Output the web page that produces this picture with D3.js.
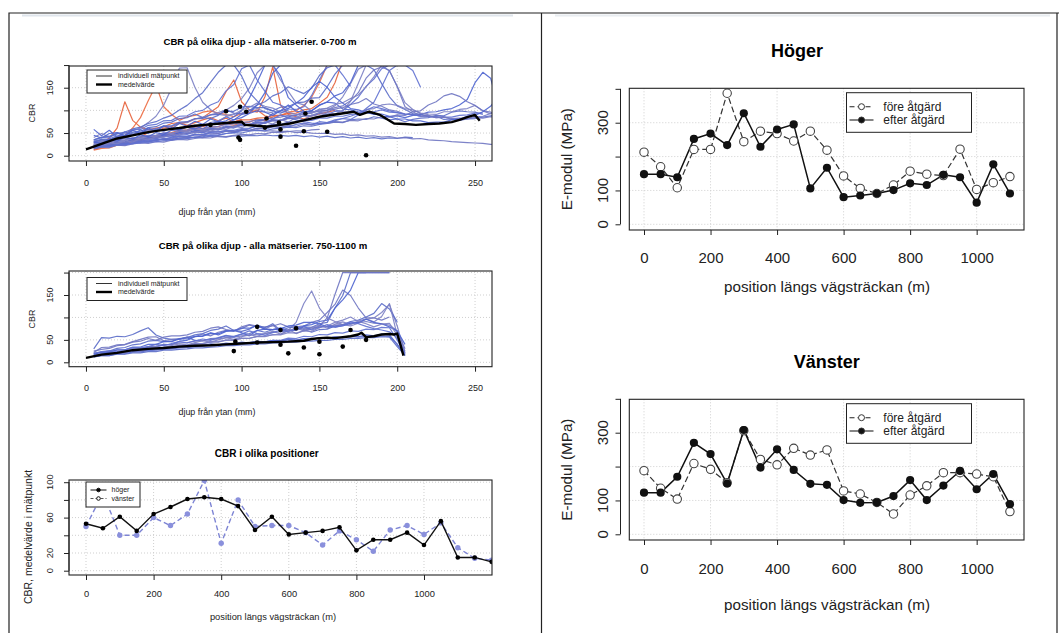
<!DOCTYPE html>
<html>
<head>
<meta charset="utf-8">
<script src="https://cdn.jsdelivr.net/npm/d3@7"></script>
<style>
body { margin: 0; background: #fff; }
svg { display: block; }
</style>
</head>
<body>
<script>
// ---- data: CBR depth profiles (values every 5 mm, starting at 5 mm) ----
var depthStep = 5;

var topBlue = [
  [22,25,26,29,28,32,33,31,35,37,36,39,38,41,40,43,42,41,44,43,45,44,46,44,45,43,45,42,44,41,43,40,42,39,41,38,40,37,39,38,41,40],
  [28,32,31,36,38,37,42,44,43,47,46,50,49,52,51,54,53,55,54,56,55,57,54,55,53,54,51,52,50,49,50,47,48,45,46,43,44,41,42,39,40,37,38,35,34,33,31,30,29,28,27,25,24],
  [58,44,56,41,53,45,57,49,59,54,62,57,64,67,59,70,73,77,86,99,127,162,200,200,176,128,112,98,96],
  [40,49,41,51,45,56,61,73,87,112,149,193,194,151,118,102,91,89,92,94,101,104,97,95],
  [20,24,23,28,29,33,31,36,37,35,41,44,42,47,46,51,49,54,52,58,56,61,59,64,66,63,69,72,68,75,73,79,82,80,90,104,118,152,188,200],
  [18,21,20,25,27,26,31,30,34,36,35,39,41,40,44,46,45,49,51,50,54,56,55,59,61,63,62,66,65,69,71,74,73,79,81,80,86,83,79,81,75,80,83,84,89,88,96,99,97,96,91],
  [16,19,18,23,22,26,28,27,31,30,34,36,35,38,40,39,43,42,45,47,46,49,48,52,51,53,55,54,57,58],
  [22,25,24,30,31,35,34,41,40,46,45,51,50,56,55,61,57,63,64,69,68,74,73,79,78,86,89,97,99,112,118,116,103,101,97,96,91,92,87,88,84,89,91,96,97,101,104,112,124,161,184,171,108,86],
  [30,33,35,39,42,47,50,55,56,64,65,72,73,81,85,90,95,101,111,126,149,183,200,200,167,142,117,112,98,97,100,110,130,159,191,200,200,200,187,153,117,102,93,91],
  [35,40,41,48,49,57,58,67,69,77,78,87,88,97,100,112,119,143,157,192,200,167,142,118,112,103,102,108,133,167,200,200,178,153],
  [30,35,35,42,43,50,51,58,59,66,66,74,75,82,82,90,91,98,98,107,109,106,106,99,107,108,117,118,127,128,152,180,200,200,200,200,190,159,130,110,102,93,92,86,87,80,81,78,81,82,85,88,91,92],
  [25,29,30,33,35,39,40,43,45,49,50,53,55,59,60,63,65,69,70,73,75,79,80,83,85,89,90,93,95,99,100,106,110,121,139,171,189,196,188,152,108,97,88,89,85,86,80,81,82,86,87,93,95,101],
  [20,24,24,30,29,35,35,40,39,45,44,50,49,54,54,60,59,64,64,70,69,77,79,93,99,112,98,96,99,111,119,132,139,161,200],
  [26,30,29,35,34,40,39,45,45,51,49,55,53,58,57,62,61,66,65,71,69,75,73,79,77,83,84,93,94,103,104,101,97,97,94,102,104,112,114,111,104,101,94,92,91,97,97,102,104,111,99,92],
  [18,22,22,27,27,33,31,37,37,43,41,48,47,53,51,58,57,63,61,68,67,73,71,78,77,83,81,88,87,93,91,98,99,113,129,153,169,192,200,200,200,188,151],
  [32,36,37,44,45,52,54,62,64,72,74,82,84,92,84,82,89,102,94,92,99,112,119,132,139,152,144,137,149,177,194,200],
  [15,19,20,23,24,29,29,34,33,38,37,42,41,46,45,50,49,54,53,57,56,60,59,64,62,67,65,70,68,72,71,75,74,78,77,82,81,86,85,90,89,97,99,112,119,132,137,131,119,111,99,96,91,91,87],
  [45,39,49,51,44,56,49,61,54,66,59,71,65,76,69,81,75,86,79,91,94,112,139,182,200],
  [24,28,28,32,33,37,37,42,43,48,49,55,57,63,66,73,77,86,91,101,107,116,109,105,97,96,91,91,94,101,105,113,117,126,134,152,174,200],
  [17,20,20,25,25,29,30,34,34,38,39,43,43,47,47,52,52,56,56,60,61,65,65,69,69,74,74,78,78,83,83,87,87,91,92,96,97,101,96,95,91,91,87,87,84,85,85,89,90,94,94],
  [35,41,43,49,52,59,63,71,75,83,89,101,111,126,139,162,184,200,200,176,139,121,104,99,94,101],
  [21,24,25,29,29,34,34,39,39,43,44,48,49,53,53,58,58,62,63,67,67,72,72,77,77,82,83,88,89,95,97,103,106,113,117,126,114,109,101,98,92,91,87,87,84,85,82,83,81,84,83,86,85],
  [30,27,36,32,41,37,46,42,51,47,56,57,63,59,66,69,76,71,79,84,93,99,96,89,99,104,116,129,151,164,151,129,116,104,101,95,93,87,86,81,81,77,77,73,74,74,79,81,87,89,97,109,131,134,121,99,91],
  [25,22,28,26,33,30,38,35,42,40,47,45,52,50,56,54,60,58,65,62,70,66,75,70,80,74,85,78,90,86,95,92,100,120,160,200],
  [19,22,21,24,24,27,28,30,31,33,35,37,38,41,42,45,46,49,51,55,60,66,73,81,90,84,79,75,72,70,73,77,82,87,93,100,108,104,99,95,92,90,88]
];

var topRed = [
  [22,27,39,61,119,78,63,57,61,64,71,73,67,73,79,84,77,83,74,80],
  [18,23,27,36,44,61,84,121,156,108,91,78,86,89,96,99,94,91,86,93,95,101,88,84],
  [15,19,21,27,29,36,41,51,54,61,64,71,74,81,84,96,108,141,167,119,101,96,130,196,112,91,86,81,88,92,96,100],
  [12,16,17,23,24,31,33,39,41,46,47,53,54,59,59,63,64,71,67,73,74,81,77,86,89,96,99,111,129,161,200,210],
  [14,19,21,27,29,34,35,41,43,49,51,56,57,63,64,69,69,73,74,79,79,83,84,89,89,93,94,101,104,116,129,161,210]
];

var topMeanX = [0,10,20,30,40,50,60,70,80,90,100,102,110,116,125,131,140,150,160,172,176,182,189,198,205,212,220,227,235,240,245,250,253];
var topMeanY = [14,26,38,45,52,57,61,66,69,72,75,68,66,64,68,71,78,86,91,97,90,97,90,71,70,68,70,71,74,79,85,90,77];

var topDotsX = [80,90,99,103,98,99,116,115,124,125,125,135,145,141,140,155,180];
var topDotsY = [68,98,108,97,40,35,82,62,73,58,42,22,119,93,54,53,1];

var midBlue = [
  [30,55,54,58,57,62,70,77,61,54,51,52,56,49,48,53,54,59,58,63,64,71,67,73,74,70,73,79,78,86,89,121,149,200,200,200],
  [22,33,34,39,40,46,51,56,57,48,51,51,56,57,63,59,67,71,71,75,83,79,79,81,86,79,79,81,89,94,111,129,161,149,121,99,99,94,101],
  [15,19,20,23,24,29,29,34,34,40,39,47,49,57,59,66,61,69,71,66,59,71,74,73,77,71,71,81,84,91,94,121,139,161,200,200,200,200,200],
  [14,17,18,21,22,25,26,29,30,33,34,37,38,41,42,45,46,49,50,53,54,57,58,61,62,71,89,131,159,121,99,91,84,81,87,96,99,111,129,81,20],
  [12,15,15,19,19,23,23,26,27,29,30,32,33,35,36,38,38,41,40,43,44,46,45,49,49,54,53,58,57,62,61,66,65,70,69,74,73,78,77,50,18],
  [18,23,25,31,33,39,41,47,49,46,47,53,55,61,64,71,74,81,71,69,74,83,77,86,71,77,79,73,67,73,74,81,84,91,94,101,109,131,119,90],
  [20,23,24,27,28,31,32,35,36,39,40,43,44,47,48,51,52,55,56,59,60,63,64,67,68,71,72,75,76,79,80,83,84,87,88,91,87,86,83,70,30],
  [13,16,17,20,21,24,25,28,29,32,33,36,35,39,37,41,39,43,41,45,43,47,45,49,47,51,49,53,51,55,53,57,55,59,57,61,59,63,61,40,16],
  [16,19,22,21,25,28,27,31,35,33,37,41,39,44,48,45,50,55,51,57,62,58,64,69,63,71,76,70,78,83,76,85,90,84,92,97,90,102,131,60],
  [15,18,19,22,22,25,25,28,28,31,31,34,34,36,37,39,39,41,41,44,44,46,46,48,48,50,50,52,52,54,54,56,55,57,56,58,57,59,58,40,15],
  [12,15,15,18,18,21,21,24,24,27,27,29,30,32,32,34,35,37,37,39,39,41,41,43,43,45,45,47,47,49,49,51,51,53,53,55,55,57,56,35,15],
  [25,29,31,37,39,45,47,53,49,56,59,59,61,67,69,76,79,73,69,79,84,81,74,83,69,73,64,71,74,81,99,151,200,200,200,200,200,200,200],
  [18,22,22,28,28,34,34,40,40,46,46,52,52,58,58,64,64,70,70,76,76,82,74,73,75,81,83,89,89,86,79,79,81,87,89,96,89,86,79,70,40],
  [14,17,17,22,21,26,25,30,29,34,33,38,37,42,41,46,45,50,49,54,53,58,57,62,61,66,65,70,69,77,81,89,94,101,91,86,79,85,87,60,25],
  [20,24,26,24,28,33,31,35,40,37,42,46,43,48,52,49,55,60,56,63,70,64,60,66,72,68,75,80,72,78,84,78,82,90,86,80,75,72,68,55,22]
];

var midMeanX = [0,10,20,30,40,50,60,70,80,90,100,110,120,130,140,145,150,155,160,170,175,177,180,185,190,195,198,200,202,204];
var midMeanY = [10,17,21,27,30,32,35,37,38,40,42,44,45,46,48,52,54,55,54,58,62,66,56,58,62,63,62,64,40,15];

var midDotsX = [96,95,110,110,125,125,130,135,140,150,150,165,170,180];
var midDotsY = [46,25,79,44,72,39,20,76,33,46,18,35,72,50];

// ---- data: CBR per position ----
var cbrPos = [0,50,100,150,200,250,300,350,400,450,500,550,600,650,700,750,800,850,900,950,1000,1050,1100,1150,1200];
var cbrHoger = [53,48,61,45,64,72,81,83,81,73,46,61,41,43,45,49,23,35,35,43,29,56,15,15,10];
var cbrVanster = [50,88,40,40,60,51,64,102,31,80,50,51,51,43,29,45,35,22,46,51,41,54,26,14,12];

// ---- data: E-modul ----
var ePos = [0,50,100,150,200,250,300,350,400,450,500,550,600,650,700,750,800,850,900,950,1000,1050,1100];
var hogerFore = [213,170,108,221,221,387,244,275,268,246,275,219,143,106,91,116,157,148,144,222,103,123,141];
var hogerEfter = [148,148,139,252,268,234,328,229,280,295,106,167,80,85,91,101,121,116,146,139,64,177,91];
var vansterFore = [188,136,104,209,192,152,306,221,205,254,234,249,128,119,94,60,116,143,182,182,178,170,67];
var vansterEfter = [123,123,170,270,237,150,308,197,251,190,149,146,101,93,94,113,160,101,144,187,133,178,89];

var font = "'Liberation Sans', Arial, Helvetica, sans-serif";
var blues = ["#5a6cc8", "#6f75c2", "#4d63cf", "#7b7fc4", "#5f70d0"];

var svg = d3.select("body").append("svg")
    .attr("width", 1059)
    .attr("height", 633)
    .style("font-family", font);

// outer frame of the figure table
svg.append("path")
    .attr("d", "M9,633V13H1059M541.5,13V633M1057,13V633")
    .attr("fill", "none")
    .attr("stroke", "#222")
    .attr("stroke-width", 1.2);
svg.append("line").attr("x1", 22).attr("x2", 513).attr("y1", 15.5).attr("y2", 15.5)
    .attr("stroke", "#dfe5ec").attr("stroke-width", 2);
svg.append("line").attr("x1", 555).attr("x2", 1050).attr("y1", 15.5).attr("y2", 15.5)
    .attr("stroke", "#e8ecf0").attr("stroke-width", 2);

var clipId = 0;

function panel(c) {
    var x = d3.scaleLinear().domain(c.xDomain).range([c.left, c.right]);
    var y = d3.scaleLinear().domain(c.yDomain).range([c.bottom, c.top]);
    var g = svg.append("g");
    var id = "clip" + (++clipId);
    g.append("clipPath").attr("id", id).append("rect")
        .attr("x", c.left).attr("y", c.top)
        .attr("width", c.right - c.left).attr("height", c.bottom - c.top);

    // dotted grid
    var grid = g.append("g").attr("stroke", "#cfcfcf").attr("stroke-dasharray", "1,2");
    grid.selectAll(".gx").data(c.xTicks).enter().append("line")
        .attr("x1", d => x(d)).attr("x2", d => x(d))
        .attr("y1", c.top).attr("y2", c.bottom);
    grid.selectAll(".gy").data(c.yTicks.filter(d => y(d) > c.top + 1)).enter().append("line")
        .attr("y1", d => y(d)).attr("y2", d => y(d))
        .attr("x1", c.left).attr("x2", c.right);

    // x axis
    var xa = g.append("g")
        .attr("transform", "translate(0," + c.bottom + ")")
        .call(d3.axisBottom(x).tickValues(c.xTicks).tickSize(5)
            .tickPadding(c.xPad).tickFormat(d3.format("d")));
    xa.select(".domain").remove();
    xa.attr("font-family", font).attr("font-size", c.tickFont).attr("color", "#222");

    // y axis, labels drawn rotated like in R
    var ya = g.append("g")
        .attr("transform", "translate(" + c.yAxisX + ",0)")
        .call(d3.axisLeft(y).tickValues(c.yTicks).tickSize(5).tickFormat(""));
    ya.select(".domain").remove();
    ya.attr("color", "#222");
    g.append("line")
        .attr("x1", c.yAxisX).attr("x2", c.yAxisX)
        .attr("y1", y(c.yTicks[0])).attr("y2", y(c.yTicks[c.yTicks.length - 1]))
        .attr("stroke", "#222");
    g.selectAll(".ylab").data(c.yShown).enter().append("text")
        .attr("transform", d => "translate(" + c.yLabX + "," + y(d) + ") rotate(-90)")
        .attr("text-anchor", "middle")
        .attr("dy", "0.35em")
        .attr("font-size", c.tickFont)
        .attr("fill", "#222")
        .text(d => d);

    // titles and axis names
    g.append("text")
        .attr("x", c.titleX).attr("y", c.titleY).attr("dy", "0.35em")
        .attr("text-anchor", "middle")
        .attr("font-weight", "bold")
        .attr("font-size", c.titleFont)
        .text(c.title);
    g.append("text")
        .attr("x", c.xNameX).attr("y", c.xNameY).attr("dy", "0.35em")
        .attr("text-anchor", "middle")
        .attr("font-size", c.nameFont)
        .attr("fill", "#222")
        .text(c.xName);
    g.append("text")
        .attr("transform", "translate(" + c.yNameX + "," + c.yNameY + ") rotate(-90)")
        .attr("dy", "0.35em")
        .attr("text-anchor", "middle")
        .attr("font-size", c.yNameFont || c.nameFont)
        .attr("fill", "#222")
        .text(c.yName);

    var plot = g.append("g").attr("clip-path", "url(#" + id + ")");
    g.append("rect")
        .attr("x", c.left).attr("y", c.top)
        .attr("width", c.right - c.left).attr("height", c.bottom - c.top)
        .attr("fill", "none").attr("stroke", "#222").attr("stroke-width", 1.1);
    return { x: x, y: y, g: g, plot: plot };
}

function depthLines(p, sets, colors, width) {
    var line = d3.line()
        .x((d, i) => p.x(depthStep + i * depthStep))
        .y(d => p.y(d));
    p.plot.append("g").selectAll("path").data(sets).enter().append("path")
        .attr("d", line)
        .attr("fill", "none")
        .attr("stroke", (d, i) => colors[i % colors.length])
        .attr("stroke-width", width)
        .attr("stroke-opacity", 0.9)
        .attr("stroke-linejoin", "round");
}

function meanLine(p, xs, ys) {
    var line = d3.line().x(d => p.x(d[0])).y(d => p.y(d[1]));
    p.plot.append("path")
        .attr("d", line(d3.zip(xs, ys)))
        .attr("fill", "none").attr("stroke", "#000").attr("stroke-width", 2.4)
        .attr("stroke-linejoin", "round");
}

function dots(p, xs, ys) {
    p.plot.append("g").selectAll("circle").data(d3.zip(xs, ys)).enter().append("circle")
        .attr("cx", d => p.x(d[0])).attr("cy", d => p.y(d[1]))
        .attr("r", 2.3).attr("fill", "#000");
}

function depthLegend(g, top) {
    g.append("rect").attr("x", 87).attr("y", top).attr("width", 100).attr("height", 23)
        .attr("fill", "#fff").attr("stroke", "#222");
    var rows = [["individuell mätpunkt", 1, "#333"], ["medelvärde", 2.4, "#000"]];
    rows.forEach(function (r, i) {
        var yy = top + 6 + i * 8.5;
        g.append("line").attr("x1", 96).attr("x2", 112).attr("y1", yy).attr("y2", yy)
            .attr("stroke", r[2]).attr("stroke-width", r[1]);
        g.append("text").attr("x", 118).attr("y", yy).attr("dy", "0.35em")
            .attr("font-size", 7).attr("fill", "#222").text(r[0]);
    });
}

// ---- panel 1: CBR på olika djup, 0-700 m ----
var p1 = panel({
    left: 69, right: 492, top: 66, bottom: 161,
    xDomain: [-10.9, 260.9], yDomain: [-11.7, 197.9],
    xTicks: [0, 50, 100, 150, 200, 250], yTicks: [0, 50, 100, 150, 200], yShown: [0, 50, 150],
    yAxisX: 69, yLabX: 50, xPad: 13.8, tickFont: 9,
    title: "CBR på olika djup - alla mätserier. 0-700 m", titleX: 260, titleY: 42, titleFont: 9.6,
    xName: "djup från ytan (mm)", xNameX: 217, xNameY: 212,
    yName: "CBR", yNameX: 32, yNameY: 113, nameFont: 8.9
});
depthLines(p1, topRed, ["#e5613a", "#ec6a40"], 1.2);
depthLines(p1, topBlue, blues, 1.2);
meanLine(p1, topMeanX, topMeanY);
dots(p1, topDotsX, topDotsY);
depthLegend(p1.g, 70);

// ---- panel 2: CBR på olika djup, 750-1100 m ----
var p2 = panel({
    left: 69, right: 492, top: 271, bottom: 366.7,
    xDomain: [-10.9, 260.9], yDomain: [-9.8, 203.5],
    xTicks: [0, 50, 100, 150, 200, 250], yTicks: [0, 50, 100, 150, 200], yShown: [0, 50, 150],
    yAxisX: 69, yLabX: 50, xPad: 12.8, tickFont: 9,
    title: "CBR på olika djup - alla mätserier. 750-1100 m", titleX: 263, titleY: 245.7, titleFont: 9.6,
    xName: "djup från ytan (mm)", xNameX: 217, xNameY: 411.7,
    yName: "CBR", yNameX: 32, yNameY: 319, nameFont: 8.9
});
depthLines(p2, midBlue, blues, 1.2);
meanLine(p2, midMeanX, midMeanY);
dots(p2, midDotsX, midDotsY);
depthLegend(p2.g, 277.5);

// ---- panel 3: CBR i olika positioner ----
var p3 = panel({
    left: 69, right: 492, top: 480, bottom: 575,
    xDomain: [-50.3, 1201.2], yDomain: [-4.86, 102.5],
    xTicks: [0, 200, 400, 600, 800, 1000], yTicks: [0, 20, 40, 60, 80, 100], yShown: [0, 20, 60, 100],
    yAxisX: 69, yLabX: 50, xPad: 10.7, tickFont: 9.3,
    title: "CBR i olika positioner", titleX: 266.7, titleY: 453, titleFont: 10,
    xName: "position längs vägsträckan (m)", xNameX: 273, xNameY: 616.7,
    yName: "CBR, medelvärde i mätpunkt", yNameX: 28, yNameY: 537, nameFont: 9.3, yNameFont: 10.5
});
var cbrLine = d3.line().x(d => p3.x(d[0])).y(d => p3.y(d[1]));
p3.plot.append("path").attr("d", cbrLine(d3.zip(cbrPos, cbrVanster)))
    .attr("fill", "none").attr("stroke", "#7d84d4").attr("stroke-width", 1.4).attr("stroke-dasharray", "5,3");
p3.plot.append("g").selectAll("circle").data(d3.zip(cbrPos, cbrVanster)).enter().append("circle")
    .attr("cx", d => p3.x(d[0])).attr("cy", d => p3.y(d[1])).attr("r", 2.7).attr("fill", "#8a90dc");
p3.plot.append("path").attr("d", cbrLine(d3.zip(cbrPos, cbrHoger)))
    .attr("fill", "none").attr("stroke", "#111").attr("stroke-width", 1.4);
p3.plot.append("g").selectAll("circle").data(d3.zip(cbrPos, cbrHoger)).enter().append("circle")
    .attr("cx", d => p3.x(d[0])).attr("cy", d => p3.y(d[1])).attr("r", 2.3).attr("fill", "#000");
p3.g.append("rect").attr("x", 86).attr("y", 482).attr("width", 54).attr("height", 25)
    .attr("fill", "#fff").attr("stroke", "#222");
[["höger", "#111", null, "#000"], ["vänster", "#555", "3,2", "#8a90dc"]].forEach(function (r, i) {
    var yy = 490 + i * 8.5;
    p3.g.append("line").attr("x1", 90.5).attr("x2", 106.5).attr("y1", yy).attr("y2", yy)
        .attr("stroke", r[1]).attr("stroke-width", 1).attr("stroke-dasharray", r[2]);
    p3.g.append("circle").attr("cx", 98.5).attr("cy", yy).attr("r", 1.8)
        .attr("fill", i ? "#fff" : "#000").attr("stroke", "#111");
    p3.g.append("text").attr("x", 111.5).attr("y", yy).attr("dy", "0.35em")
        .attr("font-size", 7).attr("fill", "#222").text(r[0]);
});

// ---- panels 4-5: E-modul ----
function eModul(top, bottom, yDomain, title, titleX, titleY, xPad, xNameY, fore, efter) {
    var p = panel({
        left: 629.3, right: 1024, top: top, bottom: bottom,
        xDomain: [-44.2, 1142.3], yDomain: yDomain,
        xTicks: [0, 200, 400, 600, 800, 1000], yTicks: [0, 100, 200, 300, 400], yShown: [0, 100, 300],
        yAxisX: 620.5, yLabX: 603, xPad: xPad, tickFont: 15,
        title: title, titleX: titleX, titleY: titleY, titleFont: 18,
        xName: "position längs vägsträckan (m)", xNameX: 827, xNameY: xNameY,
        yName: "E-modul (MPa)", yNameX: 566.7, yNameY: (top + bottom) / 2, nameFont: 15.2
    });
    var line = d3.line().x(d => p.x(d[0])).y(d => p.y(d[1]));
    p.plot.append("path").attr("d", line(d3.zip(ePos, fore)))
        .attr("fill", "none").attr("stroke", "#333").attr("stroke-width", 1.2).attr("stroke-dasharray", "6,3");
    p.plot.append("path").attr("d", line(d3.zip(ePos, efter)))
        .attr("fill", "none").attr("stroke", "#111").attr("stroke-width", 1.5);
    p.plot.append("g").selectAll("circle").data(d3.zip(ePos, fore)).enter().append("circle")
        .attr("cx", d => p.x(d[0])).attr("cy", d => p.y(d[1])).attr("r", 4.2)
        .attr("fill", "#fff").attr("stroke", "#444").attr("stroke-width", 1.1);
    p.plot.append("g").selectAll("circle").data(d3.zip(ePos, efter)).enter().append("circle")
        .attr("cx", d => p.x(d[0])).attr("cy", d => p.y(d[1])).attr("r", 4.1).attr("fill", "#111");

    var lt = top + 4.4;
    p.g.append("rect").attr("x", 846.5).attr("y", lt).attr("width", 125).attr("height", 39.6)
        .attr("fill", "#fff").attr("stroke", "#222");
    [["före åtgärd", "5,3", true], ["efter åtgärd", null, false]].forEach(function (r, i) {
        var yy = lt + 14 + i * 13.3;
        p.g.append("line").attr("x1", 849.5).attr("x2", 873.5).attr("y1", yy).attr("y2", yy)
            .attr("stroke", "#222").attr("stroke-width", 1.1).attr("stroke-dasharray", r[1]);
        p.g.append("circle").attr("cx", 861.5).attr("cy", yy).attr("r", 3)
            .attr("fill", r[2] ? "#fff" : "#111").attr("stroke", "#333");
        p.g.append("text").attr("x", 883.3).attr("y", yy).attr("dy", "0.35em")
            .attr("font-size", 12).attr("fill", "#222").text(r[0]);
    });
    return p;
}

eModul(88.3, 230, [-16.8, 401.6], "Höger", 797, 50.7, 17.4, 286.7, hogerFore, hogerEfter);
eModul(399.3, 540, [-16.8, 398.6], "Vänster", 826.7, 361.7, 18, 605, vansterFore, vansterEfter);
</script>
</body>
</html>
